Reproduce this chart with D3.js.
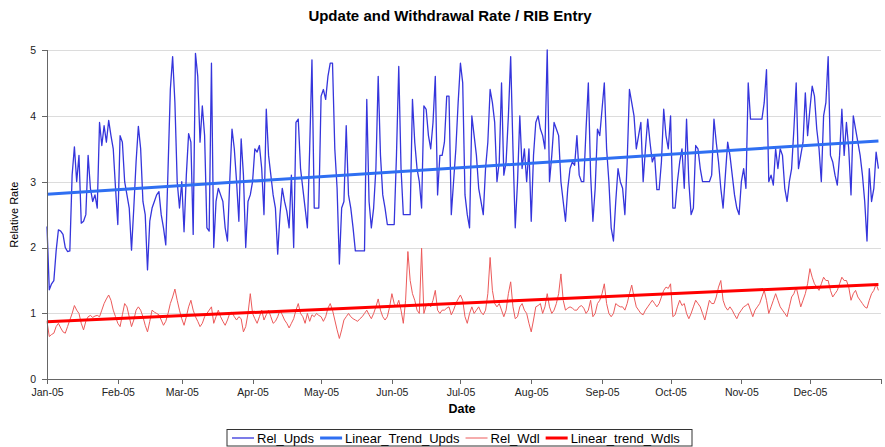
<!DOCTYPE html>
<meta charset="utf-8">
<html lang="en">
<head>
<title>Update and Withdrawal Rate / RIB Entry</title>
<script src="https://d3js.org/d3.v7.min.js"></script>
<style>
    body {
        margin: 0;
        background: #fff;
        font-family: "Liberation Sans", Arial, sans-serif;
    }
    .axis text {
        font-size: 10.5px;
        fill: #222;
    }
    .axis path,
    .axis line {
        stroke: #666;
        shape-rendering: crispEdges;
    }
    .grid line {
        stroke: #dcdcdc;
        shape-rendering: crispEdges;
    }
    .grid path {
        display: none;
    }
</style>
</head>
<body>
<svg width="885" height="447"></svg>
<script>
// Daily values, 1 Jan 2005 .. 31 Dec 2005
var startDate = new Date(2005, 0, 1);

var relUpds = [
    2.32,1.36,1.45,1.5,1.95,2.27,2.25,2.2,2.0,1.94,
    1.95,3.1,3.53,3.0,3.4,2.37,2.4,2.5,3.4,2.9,
    2.7,2.8,2.6,3.9,3.55,3.85,3.6,3.93,3.7,3.5,
    2.9,2.35,3.7,3.6,3.0,2.8,2.6,1.96,2.6,3.3,
    3.84,3.5,2.7,2.5,1.66,2.4,2.6,2.7,2.8,2.85,
    2.5,2.3,2.04,3.2,4.4,4.9,4.2,3.0,2.6,3.0,
    2.24,3.1,3.73,3.6,2.2,4.95,4.6,3.6,4.15,3.7,
    2.3,2.25,4.8,2.0,2.7,2.9,2.8,2.7,2.3,2.1,
    3.0,3.8,3.5,3.0,2.4,3.65,3.1,2.0,2.7,2.8,
    3.0,3.5,3.45,3.55,3.2,2.5,4.1,3.4,3.1,2.8,
    2.6,1.9,2.5,2.9,2.7,2.55,2.3,3.1,2.0,3.9,
    3.95,3.2,2.9,2.6,2.3,3.5,4.85,2.6,2.6,2.6,
    4.3,4.4,4.25,4.6,4.8,4.8,3.5,2.9,1.75,2.6,
    2.7,3.85,2.8,2.6,2.3,1.95,1.95,1.95,1.95,1.95,
    4.25,2.7,2.3,2.6,3.2,4.6,3.4,2.8,2.6,2.35,
    2.35,2.35,2.35,3.4,4.75,3.2,2.5,2.5,2.5,2.5,
    4.25,3.6,3.2,3.0,2.6,4.15,4.1,3.7,3.5,3.9,
    4.6,2.8,3.4,3.4,3.6,4.3,4.3,2.5,3.0,3.5,
    4.2,4.8,4.5,2.8,2.5,2.3,4.0,3.7,3.4,2.9,
    2.7,2.5,3.2,3.6,4.4,4.2,3.9,3.0,3.3,4.5,
    3.1,3.3,4.0,4.9,3.5,2.3,3.0,4.0,3.2,3.5,
    3.0,3.5,2.4,3.4,3.9,4.0,3.8,3.7,3.5,5.0,
    3.0,3.4,3.9,3.8,3.7,3.0,2.7,2.4,2.9,3.2,
    3.3,3.25,3.7,3.1,3.0,3.0,3.8,4.5,3.1,2.4,
    2.9,3.8,3.7,4.1,4.5,3.5,3.0,2.3,2.1,2.7,
    3.2,3.0,2.9,2.5,3.3,4.4,4.2,4.0,3.5,3.7,
    3.9,3.0,3.5,3.95,3.6,3.3,3.4,2.88,2.88,3.3,
    4.1,3.7,3.5,4.0,2.6,2.6,3.0,3.3,3.5,2.9,
    3.95,3.0,2.5,2.6,3.55,3.5,3.2,3.0,3.0,3.0,
    3.0,3.1,3.95,3.6,3.3,2.9,2.6,3.1,3.6,3.4,
    3.1,2.8,2.6,2.5,3.0,3.2,2.9,4.5,3.95,3.95,
    3.95,3.95,3.95,3.95,4.2,4.7,3.0,3.1,2.95,3.5,
    3.2,3.5,3.4,2.9,2.7,3.0,3.2,3.8,4.5,3.2,
    3.4,3.6,4.35,3.7,4.1,4.45,4.3,3.8,3.5,3.0,
    4.0,4.2,4.9,3.4,3.3,3.1,2.95,3.4,4.1,3.4,
    3.9,3.5,2.8,4.0,3.8,3.6,3.4,3.1,2.7,2.1,
    3.2,2.7,2.9,3.45,3.2
];

var relWdl = [
    0.88,0.65,0.68,0.7,0.8,0.85,0.78,0.72,0.7,0.8,
    0.9,1.0,1.12,1.05,1.0,0.85,0.75,0.88,0.95,0.97,
    0.94,0.96,0.97,0.95,1.05,1.15,1.22,1.28,1.2,1.05,
    0.95,0.85,0.8,0.98,1.15,1.1,0.95,0.8,0.9,1.05,
    1.1,1.05,0.95,0.82,0.72,0.88,1.05,1.02,1.0,0.98,
    0.9,0.82,0.88,1.0,1.15,1.25,1.37,1.2,1.05,0.92,
    0.82,0.95,1.1,1.2,1.05,0.95,0.88,0.8,0.85,0.95,
    1.0,1.05,1.1,0.85,0.95,1.05,0.95,0.88,0.82,0.9,
    1.0,1.02,0.95,0.9,0.95,0.92,0.72,0.8,1.0,1.3,
    1.0,0.92,0.85,0.95,1.05,0.9,0.98,1.05,0.95,0.85,
    0.88,0.95,1.05,0.98,0.9,0.85,0.78,0.85,0.92,1.05,
    1.15,1.0,0.95,0.85,1.0,0.88,0.98,0.95,1.0,0.97,
    0.95,0.88,0.95,1.08,1.15,1.05,0.9,0.75,0.62,0.75,
    0.9,0.95,1.0,0.95,0.92,0.9,0.88,0.92,0.95,1.0,
    1.05,0.98,0.92,1.0,1.1,1.22,1.05,0.95,0.9,0.95,
    1.1,1.3,1.15,1.1,1.2,1.05,0.85,1.2,1.94,1.5,
    1.3,1.2,1.05,1.0,1.99,1.0,1.12,1.15,1.1,1.2,
    1.35,1.05,1.0,1.05,1.05,1.08,1.1,0.98,1.05,1.15,
    1.22,1.28,1.2,0.95,0.85,1.0,1.1,1.0,1.05,1.1,
    1.02,0.98,1.05,1.3,1.85,1.35,1.15,1.1,1.15,1.05,
    0.95,1.05,1.3,1.48,1.1,0.92,0.95,1.1,1.15,1.05,
    1.0,0.85,0.72,0.9,1.1,1.12,1.15,1.0,1.1,1.3,
    1.1,1.0,1.05,1.15,1.3,1.6,1.2,1.05,1.08,1.1,
    1.08,1.05,1.05,1.1,1.12,1.08,1.0,1.05,1.2,0.95,
    1.0,1.15,1.2,1.3,1.45,1.15,1.0,0.95,1.0,1.15,
    1.12,1.1,1.1,1.05,1.15,1.3,1.43,1.25,1.1,1.05,
    1.0,0.98,1.05,1.1,1.15,1.2,1.15,1.1,1.15,1.25,
    1.35,1.4,1.38,1.45,0.95,0.98,1.1,1.2,1.12,1.15,
    1.0,0.92,1.0,1.1,1.2,1.15,1.1,1.0,0.9,1.05,
    1.2,1.15,1.15,1.25,1.4,1.5,1.2,1.1,1.05,1.1,
    1.05,0.98,0.92,1.0,1.05,1.1,1.12,1.15,1.05,0.95,
    1.05,1.1,1.15,1.25,1.35,1.2,1.0,1.1,1.2,1.3,
    1.2,1.1,1.05,1.0,0.95,1.1,1.25,1.3,1.4,1.25,
    1.1,1.2,1.3,1.45,1.68,1.55,1.45,1.4,1.35,1.45,
    1.55,1.5,1.5,1.35,1.25,1.3,1.35,1.45,1.55,1.5,
    1.5,1.4,1.2,1.3,1.35,1.25,1.2,1.15,1.1,1.08,
    1.2,1.3,1.35,1.45,1.35
];

// Linear trend end points (first day, last day)
var trendUpds = [2.81, 3.62];
var trendWdls = [0.875, 1.44];

var yTicks = [0, 1, 2, 3, 4, 5];
var seriesNames = ["Rel_Upds", "Linear_Trend_Upds", "Rel_Wdl", "Linear_trend_Wdls"];

var svg = d3.select("svg"),
    margin = {top: 50, right: 4.3, bottom: 67.7, left: 47},
    width = +svg.attr("width") - margin.left - margin.right,
    height = +svg.attr("height") - margin.top - margin.bottom,
    g = svg.append("g").attr("transform", "translate(" + margin.left + "," + margin.top + ")");

var endDate = d3.timeDay.offset(startDate, relUpds.length - 1);

var x = d3.scaleTime()
    .domain([startDate, new Date(2006, 0, 1)])
    .range([0, width]);

var y = d3.scaleLinear()
    .domain([0, 5])
    .range([height, 0]);

var styles = {
    "Rel_Upds": {color: "#3535dc", width: 1.3},
    "Linear_Trend_Upds": {color: "#2f6ff2", width: 3},
    "Rel_Wdl": {color: "#ec5a5a", width: 1},
    "Linear_trend_Wdls": {color: "#ff0000", width: 3}
};

// Grid lines
g.append("g")
    .attr("class", "grid")
    .call(d3.axisLeft(y).tickValues(yTicks.slice(1)).tickSize(-width).tickFormat(""));

// Series
var line = d3.line()
    .x(function(d) { return x(d.date); })
    .y(function(d) { return y(d.value); });

function toPoints(arr) {
    return arr.map(function(v, i) {
        return {date: d3.timeDay.offset(startDate, i), value: v};
    });
}

function trendPoints(arr) {
    return [{date: startDate, value: arr[0]}, {date: endDate, value: arr[1]}];
}

var series = [
    {name: "Rel_Upds", points: toPoints(relUpds)},
    {name: "Rel_Wdl", points: toPoints(relWdl)},
    {name: "Linear_Trend_Upds", points: trendPoints(trendUpds)},
    {name: "Linear_trend_Wdls", points: trendPoints(trendWdls)}
];

g.selectAll(".series")
    .data(series)
    .enter().append("path")
    .attr("class", "series")
    .attr("fill", "none")
    .attr("stroke", function(d) { return styles[d.name].color; })
    .attr("stroke-width", function(d) { return styles[d.name].width; })
    .attr("stroke-linejoin", "round")
    .attr("d", function(d) { return line(d.points); });

// Axes
var monthTicks = d3.timeMonth.range(startDate, new Date(2006, 0, 2));
var fmt = d3.timeFormat("%b-%y");

g.append("g")
    .attr("class", "axis")
    .attr("transform", "translate(0," + height + ")")
    .call(d3.axisBottom(x)
        .tickValues(monthTicks)
        .tickSize(5)
        .tickPadding(4)
        .tickFormat(function(d) { return d.getFullYear() === 2005 ? fmt(d) : ""; }));

g.append("g")
    .attr("class", "axis")
    .call(d3.axisLeft(y)
        .tickValues(yTicks)
        .tickSize(5)
        .tickPadding(6)
        .tickFormat(d3.format("d")));

// Titles
svg.append("text")
    .attr("x", 450)
    .attr("y", 21)
    .attr("text-anchor", "middle")
    .style("font-size", "15px")
    .style("font-weight", "bold")
    .text("Update and Withdrawal Rate / RIB Entry");

svg.append("text")
    .attr("transform", "translate(18," + (margin.top + height / 2) + ") rotate(-90)")
    .attr("text-anchor", "middle")
    .style("font-size", "11px")
    .text("Relative Rate");

svg.append("text")
    .attr("x", 462)
    .attr("y", 412.5)
    .attr("text-anchor", "middle")
    .style("font-size", "12.5px")
    .style("font-weight", "bold")
    .text("Date");

// Legend
var legend = svg.append("g").attr("transform", "translate(227,429.5)");

legend.append("rect")
    .attr("width", 465)
    .attr("height", 16.5)
    .attr("fill", "#fff")
    .attr("stroke", "#333")
    .attr("stroke-width", 1);

var lx = 5;
seriesNames.forEach(function(name) {
    var item = legend.append("g").attr("transform", "translate(" + lx + ",0)");
    item.append("line")
        .attr("x1", 0).attr("x2", 22)
        .attr("y1", 8.5).attr("y2", 8.5)
        .attr("stroke", styles[name].color)
        .attr("stroke-width", styles[name].width);
    var t = item.append("text")
        .attr("x", 25)
        .attr("y", 13)
        .style("font-size", "13px")
        .text(name);
    lx += 25 + t.node().getComputedTextLength() + 6;
});
</script>
</body>
</html>
